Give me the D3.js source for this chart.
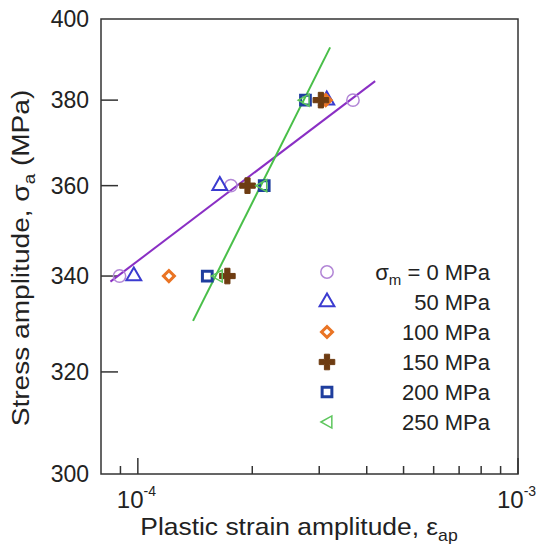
<!DOCTYPE html>
<html>
<head>
<meta charset="utf-8">
<script src="https://cdn.jsdelivr.net/npm/d3@7"></script>
<style>
  html, body { margin: 0; padding: 0; background: #fff; }
  svg { display: block; font-family: "Liberation Sans", Arial, sans-serif; }
</style>
</head>
<body>
<div id="chart"></div>
<script>
// stress levels (MPa) at which the tests were run
const stressLevels = [340, 360, 380];
// plastic strain amplitude for each mean stress, per stress level (null = not shown)
const strain0 = [8.95e-5, 1.757e-4, 3.68e-4];
const strain50 = [9.76e-5, 1.643e-4, 3.14e-4];
const strain100 = [1.207e-4, null, 3.12e-4];
const strain150 = [1.72e-4, 1.943e-4, 3.03e-4];
const strain200 = [1.523e-4, 2.15e-4, 2.76e-4];
const strain250 = [1.619e-4, 2.12e-4, 2.74e-4];
const legendLabels = ['0 MPa', '50 MPa', '100 MPa', '150 MPa', '200 MPa', '250 MPa'];
// fitted lines, end points [strain, stress]
const fitLow = [[8.47e-5, 338.8], [4.21e-4, 384.6]];
const fitHigh = [[1.397e-4, 330.5], [3.205e-4, 392.9]];
const yTicks = [300, 320, 340, 360, 380, 400];

const width = 541, height = 552;
const margin = { top: 19, right: 23, bottom: 78, left: 101 };

const svg = d3.select('#chart').append('svg')
  .attr('width', width).attr('height', height)
  .attr('viewBox', `0 0 ${width} ${height}`);

const x = d3.scaleLog().domain([8e-5, 1e-3]).range([margin.left, width - margin.right]);
const y = d3.scaleLog().domain([300, 400]).range([height - margin.bottom, margin.top]);

const series = [
  { data: strain0, symbol: 'circle', color: '#b286d6', fill: 'none', sw: 1.5, size: 120 },
  { data: strain50, symbol: 'triangle', color: '#3b3bd0', fill: 'none', sw: 2, size: 95 },
  { data: strain100, symbol: 'diamond', color: '#ea7424', fill: 'none', sw: 3, size: 60 },
  { data: strain150, symbol: 'cross', color: '#6e3c12', fill: '#6e3c12', sw: 1, size: 135 },
  { data: strain200, symbol: 'square', color: '#1f3e9e', fill: 'none', sw: 3, size: 95 },
  { data: strain250, symbol: 'left', color: '#5dc65d', fill: 'none', sw: 1.5, size: 95 }
];

function symbolPath(s) {
  if (s.symbol === 'left') {
    const r = Math.sqrt(s.size) * 0.62;
    return `M${-r},0L${r * 0.8},${-r}L${r * 0.8},${r}Z`;
  }
  const type = {
    circle: d3.symbolCircle, triangle: d3.symbolTriangle, diamond: d3.symbolSquare,
    cross: d3.symbolCross, square: d3.symbolSquare
  }[s.symbol];
  return d3.symbol().type(type).size(s.size)();
}
function rot(s) { return s.symbol === 'diamond' ? ' rotate(45)' : ''; }

// frame
svg.append('rect')
  .attr('x', margin.left).attr('y', margin.top)
  .attr('width', width - margin.right - margin.left)
  .attr('height', height - margin.bottom - margin.top)
  .attr('fill', 'none').attr('stroke', '#333').attr('stroke-width', 1.5);

// y ticks (inside)
const yAxis = svg.append('g');
yAxis.selectAll('line').data(yTicks.slice(1, -1)).join('line')
  .attr('x1', margin.left).attr('x2', margin.left + 17)
  .attr('y1', d => y(d)).attr('y2', d => y(d))
  .attr('stroke', '#333').attr('stroke-width', 1.5);
yAxis.selectAll('text').data(yTicks).join('text')
  .attr('x', margin.left - 12).attr('y', d => y(d))
  .attr('dy', '0.36em').attr('text-anchor', 'end')
  .attr('font-size', 23).attr('fill', '#222')
  .text(d => d);

// x ticks (inside, log)
const xMajor = [1e-4, 1e-3];
const xMinor = [9e-5, 2e-4, 3e-4, 4e-4, 5e-4, 6e-4, 7e-4, 8e-4, 9e-4];
const xb = height - margin.bottom;
const xAxis = svg.append('g');
xAxis.selectAll('line.minor').data(xMinor).join('line').attr('class', 'minor')
  .attr('x1', d => x(d)).attr('x2', d => x(d))
  .attr('y1', xb).attr('y2', xb - 8)
  .attr('stroke', '#333').attr('stroke-width', 1.5);
xAxis.selectAll('line.major').data(xMajor).join('line').attr('class', 'major')
  .attr('x1', d => x(d)).attr('x2', d => x(d))
  .attr('y1', xb).attr('y2', xb - 16)
  .attr('stroke', '#333').attr('stroke-width', 1.5);
const xl = xAxis.selectAll('text').data(xMajor).join('text')
  .attr('x', d => x(d) - 21).attr('y', xb + 34)
  .attr('font-size', 24).attr('fill', '#222');
xl.append('tspan').text('10');
xl.append('tspan').attr('font-size', 14).attr('dy', -12).text(d => Math.round(Math.log10(d)));

// axis titles (the original lettering runs a bit wide, hence the stretch)
svg.append('text')
  .attr('transform', 'translate(29,258) rotate(-90) scale(1.17,1)')
  .attr('text-anchor', 'middle').attr('font-size', 24).attr('fill', '#222')
  .call(t => {
    t.append('tspan').text('Stress amplitude, σ');
    t.append('tspan').attr('font-size', 16).attr('dy', 6).text('a');
    t.append('tspan').attr('dy', -6).text(' (MPa)');
  });
svg.append('text')
  .attr('transform', `translate(299,${xb + 61}) scale(1.1,1)`)
  .attr('text-anchor', 'middle').attr('font-size', 24).attr('fill', '#222')
  .call(t => {
    t.append('tspan').text('Plastic strain amplitude, ε');
    t.append('tspan').attr('font-size', 16).attr('dy', 6).text('ap');
  });

// fitted lines
const line = d3.line().x(d => x(d[0])).y(d => y(d[1]));
svg.append('path').datum(fitLow).attr('d', line)
  .attr('fill', 'none').attr('stroke', '#8a2fc4').attr('stroke-width', 2);
svg.append('path').datum(fitHigh).attr('d', line)
  .attr('fill', 'none').attr('stroke', '#49bf49').attr('stroke-width', 2);

// data points
series.forEach(s => {
  const pts = stressLevels.map((st, i) => ({ st, e: s.data[i] })).filter(p => p.e != null);
  svg.append('g').selectAll('path').data(pts).join('path')
    .attr('d', symbolPath(s))
    .attr('transform', p => `translate(${x(p.e)},${y(p.st)})${rot(s)}`)
    .attr('fill', s.fill).attr('stroke', s.color).attr('stroke-width', s.sw);
});

// legend
const legend = svg.append('g');
series.forEach((s, i) => {
  const ly = 272 + i * 30;
  legend.append('path').attr('d', symbolPath(s))
    .attr('transform', `translate(327,${ly})${rot(s)}`)
    .attr('fill', s.fill).attr('stroke', s.color).attr('stroke-width', s.sw);
  const t = legend.append('text').attr('x', 490).attr('y', ly).attr('dy', '0.36em')
    .attr('text-anchor', 'end').attr('font-size', 22).attr('fill', '#222');
  if (i === 0) {
    t.append('tspan').text('σ');
    t.append('tspan').attr('font-size', 15).attr('dy', 5).text('m');
    t.append('tspan').attr('dy', -5).text(' = ' + legendLabels[i]);
  } else {
    t.text(legendLabels[i]);
  }
});
</script>
</body>
</html>
